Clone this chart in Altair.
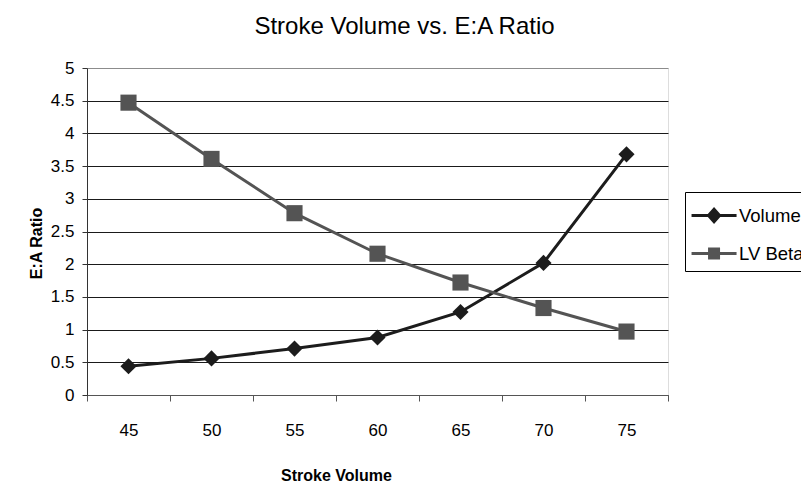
import altair as alt
import pandas as pd

stroke_volume = [45, 50, 55, 60, 65, 70, 75]
volume = [0.44, 0.56, 0.71, 0.88, 1.27, 2.02, 3.68]
lv_beta = [4.47, 3.61, 2.78, 2.16, 1.72, 1.33, 0.97]
series_names = ["Volume", "LV Beta"]
series_colors = ["#1c1c1c", "#545454"]
series_shapes = ["diamond", "square"]
y_ticks = [0, 0.5, 1, 1.5, 2, 2.5, 3, 3.5, 4, 4.5, 5]

rows = []
for sv, v, b in zip(stroke_volume, volume, lv_beta):
    rows.append({"sv": str(sv), "series": "Volume", "val": v})
    rows.append({"sv": str(sv), "series": "LV Beta", "val": b})
df = pd.DataFrame(rows)

FONT = "Liberation Sans"

vol_path = "M-1.13,0H1.87M0,0L0.37,-0.42L0.74,0L0.37,0.42Z"
beta_path = "M-1.13,0H1.87M0.07,-0.3H0.67V0.3H0.07Z"
shape_expr = "datum.value == 'Volume' ? '%s' : '%s'" % (vol_path, beta_path)
color_expr = "datum.value == 'Volume' ? '%s' : '%s'" % (series_colors[0], series_colors[1])

x_enc = alt.X(
    "sv:O",
    sort=[str(s) for s in stroke_volume],
    scale=alt.Scale(type="band", paddingInner=0, paddingOuter=0),
    axis=alt.Axis(
        title="Stroke Volume",
        labelAngle=0,
        tickBand="extent",
        grid=False,
        domainColor="#555555",
        tickColor="#555555",
        tickSize=6,
        labelPadding=21,
        labelFont=FONT,
        labelFontSize=17,
        labelColor="black",
        titleFont=FONT,
        titleFontSize=16,
        titleFontWeight="bold",
        titleColor="black",
        titleX=249,
        titleY=80,
        titleBaseline="middle",
        titleAlign="center",
    ),
)

y_enc = alt.Y(
    "val:Q",
    scale=alt.Scale(domain=[0, 5], nice=False, zero=True),
    axis=alt.Axis(
        title="E:A Ratio",
        values=y_ticks,
        format="~g",
        grid=True,
        gridColor={"condition": {"test": "datum.value >= 5", "value": "#8c8c8c"}, "value": "#1a1a1a"},
        gridWidth=1,
        domainColor="#333333",
        tickColor="#333333",
        tickSize=5,
        labelPadding=8,
        labelFont=FONT,
        labelFontSize=17,
        labelColor="black",
        titleFont=FONT,
        titleFontSize=16,
        titleFontWeight="bold",
        titleColor="black",
        titleX=-51,
        titleY=175,
        titleAngle=270,
        titleBaseline="middle",
        titleAlign="center",
    ),
)

color_scale = alt.Scale(domain=series_names, range=series_colors)

lines = alt.Chart(df).mark_line(strokeWidth=3).encode(
    x=x_enc,
    y=y_enc,
    color=alt.Color(
        "series:N",
        scale=color_scale,
        legend=alt.Legend(
            orient="none",
            legendX=598,
            legendY=124,
            title=None,
            strokeColor="black",
            fillColor="white",
            padding=7,
            labelFont=FONT,
            labelFontSize=18.5,
            labelColor="black",
            labelOffset=14,
            symbolSize=900,
            symbolStrokeWidth=3,
            symbolType=alt.ExprRef(shape_expr),
            symbolFillColor=alt.ExprRef(color_expr),
            symbolStrokeColor=alt.ExprRef(color_expr),
            rowPadding=9,
            labelLimit=300,
        ),
    ),
    detail="series:N",
)

point_layers = []
for name, shp in zip(series_names, series_shapes):
    point_layers.append(
        alt.Chart(df)
        .transform_filter(alt.datum.series == name)
        .mark_point(filled=True, opacity=1, size=260, shape=shp)
        .encode(
            x=x_enc,
            y=y_enc,
            color=alt.Color("series:N", scale=color_scale, legend=None),
        )
    )

chart = (
    alt.layer(lines, *point_layers)
    .properties(
        width=581,
        height=327,
        autosize=alt.AutoSizeParams(type="none"),
        padding={"left": 87, "top": 68, "right": 133, "bottom": 89},
        title=alt.TitleParams(
            text="Stroke Volume vs. E:A Ratio",
            font=FONT,
            fontSize=24,
            fontWeight="normal",
            color="black",
            anchor="middle",
            dx=27,
            offset=20,
        ),
    )
    .configure_view(fill="#cdcdcd", stroke="#8c8c8c", strokeWidth=1)
    .configure(background="white")
)

chart.save("out.html", embed_options={"renderer": "svg", "actions": False})
